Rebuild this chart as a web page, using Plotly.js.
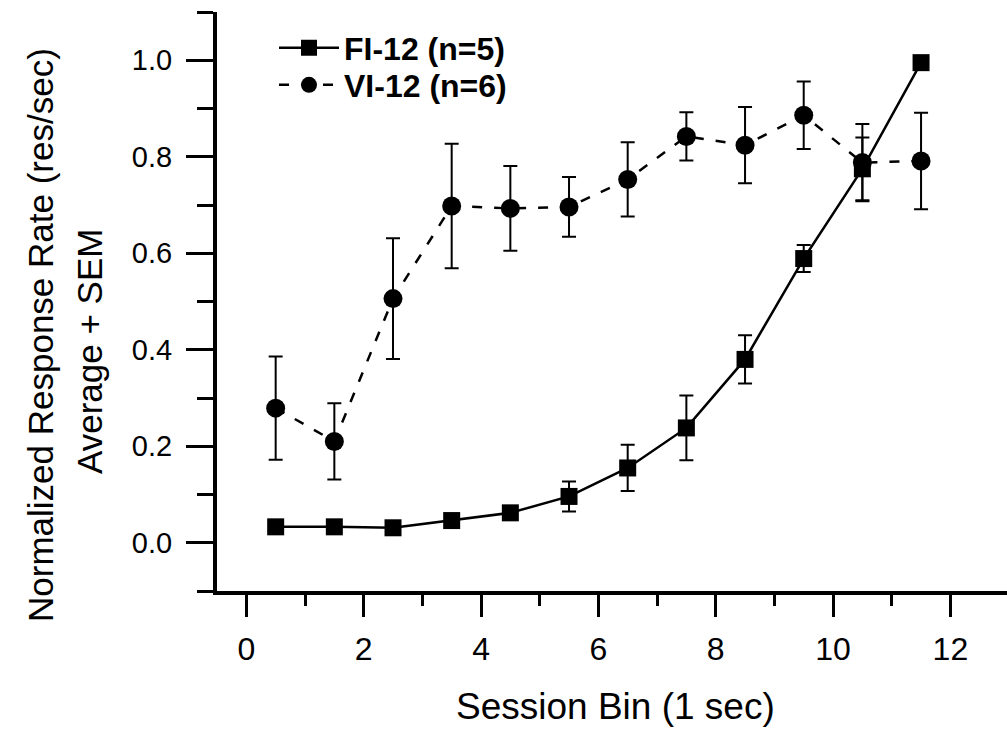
<!DOCTYPE html>
<html>
<head>
<meta charset="utf-8">
<script src="https://cdn.plot.ly/plotly-3.0.1.min.js"></script>
<style>html,body{margin:0;padding:0;background:#fff;}#chart{width:1007px;height:729px;}</style>
</head>
<body>
<div id="chart"></div>
<script>
// Session bins (x positions)
const bins = [0.5, 1.5, 2.5, 3.5, 4.5, 5.5, 6.5, 7.5, 8.5, 9.5, 10.5, 11.5];
// FI-12 (n=5) averages and SEM
const fiMean = [0.033, 0.033, 0.031, 0.046, 0.062, 0.096, 0.155, 0.238, 0.380, 0.589, 0.775, 0.995];
const fiSem  = [0.004, 0.004, 0.004, 0.006, 0.008, 0.031, 0.048, 0.067, 0.050, 0.028, 0.065, 0.005];
// VI-12 (n=6) averages and SEM
const viMean = [0.279, 0.210, 0.506, 0.698, 0.693, 0.696, 0.753, 0.842, 0.824, 0.886, 0.788, 0.791];
const viSem  = [0.107, 0.079, 0.125, 0.129, 0.088, 0.062, 0.077, 0.050, 0.079, 0.070, 0.080, 0.100];
// tick labels
const xTickVals = [0, 2, 4, 6, 8, 10, 12];
const xTickText = ["0", "2", "4", "6", "8", "10", "12"];
const yTickVals = [0.0, 0.2, 0.4, 0.6, 0.8, 1.0];
const yTickText = ["0.0", "0.2", "0.4", "0.6", "0.8", "1.0"];
// titles
const xTitle = "Session Bin (1 sec)";
const yTitle1 = "Normalized Response Rate (res/sec)";
const yTitle2 = "Average + SEM";

const FONT = "Liberation Sans, Arial, Helvetica, sans-serif";
const PW = 790, PH = 579, ML = 217, MT = 12;
const px2x = p => (p - ML) / PW;
const px2y = p => (MT + PH - p) / PH;

const traces = [
  {
    x: bins, y: fiMean, name: "FI-12 (n=5)", type: "scatter", mode: "lines+markers",
    legend: "legend",
    line: {color: "#000", width: 2.5},
    marker: {symbol: "square", size: 17, color: "#000"},
    error_y: {type: "data", array: fiSem, visible: true, color: "#000", thickness: 2, width: 7}
  },
  {
    x: bins, y: viMean, name: "VI-12 (n=6)", type: "scatter", mode: "lines+markers",
    legend: "legend2",
    line: {color: "#000", width: 2.5, dash: "10px,12px"},
    marker: {symbol: "circle", size: 19, color: "#000"},
    error_y: {type: "data", array: viSem, visible: true, color: "#000", thickness: 2, width: 7}
  }
];

const legFont = {family: FONT, size: 32, color: "#000", weight: "bold"};
const layout = {
  width: 1007, height: 729,
  margin: {l: ML, r: 0, t: MT, b: 729 - MT - PH},
  paper_bgcolor: "#fff", plot_bgcolor: "#fff",
  font: {family: FONT, color: "#000", size: 26},
  showlegend: true,
  legend: {
    x: px2x(274), y: px2y(48), xanchor: "left", yanchor: "middle",
    font: legFont, bgcolor: "rgba(0,0,0,0)", itemwidth: 60
  },
  legend2: {
    x: px2x(274), y: px2y(85), xanchor: "left", yanchor: "middle",
    font: legFont, bgcolor: "rgba(0,0,0,0)", itemwidth: 60
  },
  xaxis: {
    range: [-0.5, 12.965], showgrid: false, zeroline: false,
    showline: true, linewidth: 4, linecolor: "#000",
    tickmode: "array", tickvals: xTickVals, ticktext: xTickText,
    ticks: "outside", ticklen: 22, tickwidth: 3, tickcolor: "#000",
    ticklabelstandoff: 5,
    tickfont: {family: FONT, size: 32, color: "#000"},
    minor: {dtick: 1, ticklen: 11, tickwidth: 3, tickcolor: "#000", ticks: "outside", showgrid: false}
  },
  yaxis: {
    range: [-0.1, 1.1], showgrid: false, zeroline: false,
    showline: true, linewidth: 4, linecolor: "#000",
    tickmode: "array", tickvals: yTickVals, ticktext: yTickText,
    ticks: "outside", ticklen: 27, tickwidth: 3, tickcolor: "#000",
    ticklabelstandoff: 8,
    tickfont: {family: FONT, size: 29, color: "#000"},
    minor: {dtick: 0.1, tick0: 0, ticklen: 16, tickwidth: 3, tickcolor: "#000", ticks: "outside", showgrid: false}
  },
  annotations: [
    {text: xTitle, xref: "paper", yref: "paper",
     x: px2x(615), y: px2y(706), xanchor: "center", yanchor: "middle",
     showarrow: false, font: {family: FONT, size: 37, color: "#000"}},
    {text: yTitle1, xref: "paper", yref: "paper",
     x: px2x(40), y: px2y(335), xanchor: "center", yanchor: "middle", textangle: -90,
     showarrow: false, font: {family: FONT, size: 35, color: "#000"}},
    {text: yTitle2, xref: "paper", yref: "paper",
     x: px2x(90), y: px2y(352), xanchor: "center", yanchor: "middle", textangle: -90,
     showarrow: false, font: {family: FONT, size: 35, color: "#000"}}
  ]
};

Plotly.newPlot("chart", traces, layout, {displayModeBar: false, staticPlot: true});
</script>
</body>
</html>
